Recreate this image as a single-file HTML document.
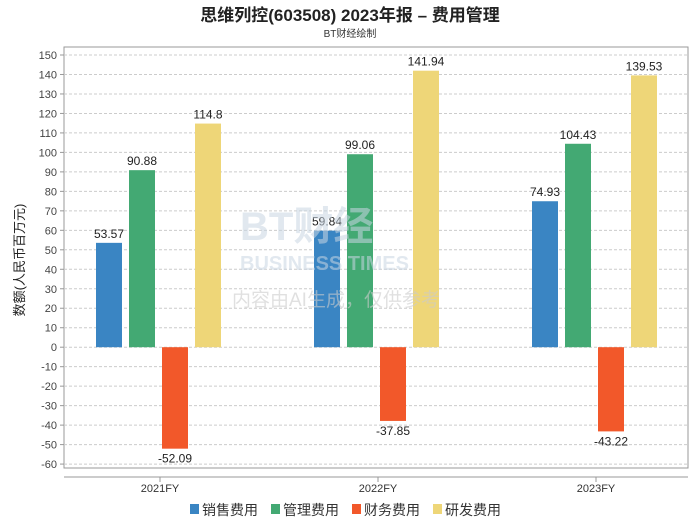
<!DOCTYPE html>
<html><head><meta charset="utf-8"><style>
body{margin:0;background:#fff;font-family:"Liberation Sans","Noto Sans CJK SC",sans-serif;}
svg text{font-family:"Liberation Sans","Noto Sans CJK SC",sans-serif;}
</style></head><body>
<svg id="c" width="700" height="524">
<text x="350" y="21" text-anchor="middle" font-size="17" font-weight="bold" fill="#222">思维列控(603508) 2023年报 – 费用管理</text>
<text x="350" y="37" text-anchor="middle" font-size="10" fill="#333">BT财经绘制</text>
<text transform="translate(24,260) rotate(-90)" text-anchor="middle" font-size="13" fill="#222">数额(人民币百万元)</text>
<g id="g"></g>
<text x="240" y="240" font-size="40" font-weight="bold" fill="#c9d6e3" opacity="0.55">BT财经</text>
<text x="240" y="270" font-size="20" font-weight="bold" fill="#c9d6e3" opacity="0.55">BUSINESS TIMES</text>
<text x="232" y="306" font-size="19" fill="#ccc" opacity="0.6">内容由AI生成，仅供参考</text>
<g id="legend"></g>
</svg>
<script>
const categories=["2021FY","2022FY","2023FY"];
const seriesNames=["销售费用","管理费用","财务费用","研发费用"];
const sales=[53.57,59.84,74.93];
const admin=[90.88,99.06,104.43];
const fin=[-52.09,-37.85,-43.22];
const rnd=[114.8,141.94,139.53];
const yTicks=[150,140,130,120,110,100,90,80,70,60,50,40,30,20,10,0,-10,-20,-30,-40,-50,-60];
const colors=["#3a85c3","#43a973","#f2582a","#eed678"];
const series=[sales,admin,fin,rnd];
const NS="http://www.w3.org/2000/svg";
const g=document.getElementById('g');
const L=64,R=688,T=47,B=468;
const y=v=>347.2-v*1.948;
const xc=i=>160+i*218;
function mk(t,a,p){const e=document.createElementNS(NS,t);for(const k in a)e.setAttribute(k,a[k]);(p||g).appendChild(e);return e;}
mk('rect',{x:L,y:T,width:R-L,height:B-T,fill:'none',stroke:'#999'});
yTicks.forEach(v=>{
 const l=mk('line',{x1:L,x2:R,y1:y(v),y2:y(v),stroke:'#ccc','stroke-dasharray':'3,2'});
 
 
 mk('line',{x1:L-4,x2:L,y1:y(v),y2:y(v),stroke:'#999'});
 const t=mk('text',{x:L-7,y:y(v)+4,'text-anchor':'end','font-size':11,fill:'#444'});t.textContent=v;
 
 
});
mk('line',{x1:L,x2:R,y1:477,y2:477,stroke:'#999'});
categories.forEach((c,i)=>{
 mk('line',{x1:xc(i),x2:xc(i),y1:477,y2:482,stroke:'#999'});
 const t=mk('text',{x:xc(i),y:492,'text-anchor':'middle','font-size':11,fill:'#333'});t.textContent=c;
 
 
 series.forEach((s,j)=>{
  const v=s[i],cx=xc(i)-51+j*33;
  const r=mk('rect',{x:cx-13,y:Math.min(y(v),y(0)),width:26,height:Math.abs(y(v)-y(0)),fill:colors[j]});
  
  
  const t=mk('text',{x:cx,y:v>=0?y(v)-5:y(v)+14,'text-anchor':'middle','font-size':12,fill:'#222'});t.textContent=v;
  
  
 });
});
const lg=document.getElementById('legend');
let lx=190;
seriesNames.forEach((n,j)=>{
 const r=mk('rect',{x:lx,y:504,width:9,height:10,fill:colors[j]},lg);
 
 
 const t=mk('text',{x:lx+12,y:515,'font-size':14,fill:'#333'},lg);t.textContent=n;
 
 
 lx+=81;
});
</script>
</body></html>
